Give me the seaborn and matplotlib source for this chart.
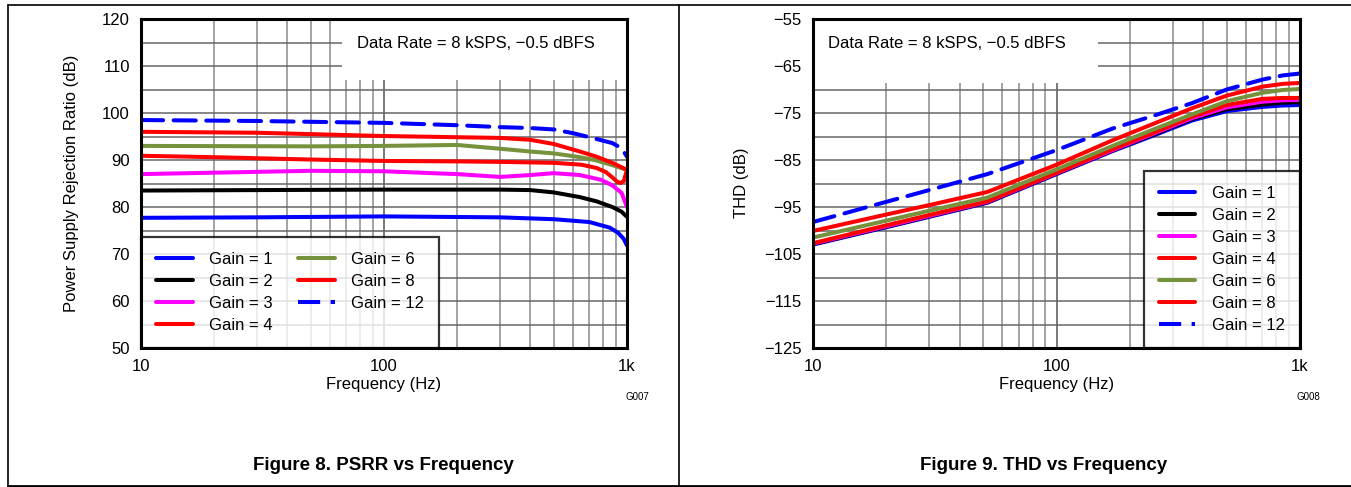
import numpy as np
import pandas as pd
import matplotlib
matplotlib.use("Agg")
import matplotlib.pyplot as plt
import seaborn as sns
from matplotlib.ticker import LogLocator, FixedLocator, FixedFormatter, MultipleLocator, NullFormatter
from matplotlib.lines import Line2D
from matplotlib.patches import Rectangle

# ---------------- data ----------------
gain_labels = ["Gain = 1", "Gain = 2", "Gain = 3", "Gain = 4", "Gain = 6", "Gain = 8", "Gain = 12"]
gain_colors = ["#0000ff", "#000000", "#ff00ff", "#ff0000", "#76923c", "#ff0000", "#0000ff"]
gain_dashed = [False, False, False, False, False, False, True]

# PSRR vs frequency (dB)
psrr_g1_f = [10, 30, 100, 300, 500, 700, 850, 920, 970, 1000]
psrr_g1 = [77.7, 77.8, 78.0, 77.8, 77.4, 76.8, 75.6, 74.5, 73.2, 71.8]
psrr_g2_f = [10, 30, 100, 300, 400, 500, 640, 750, 870, 950, 1000]
psrr_g2 = [83.5, 83.6, 83.7, 83.7, 83.6, 83.1, 82.1, 81.2, 80.0, 79.0, 77.9]
psrr_g3_f = [10, 20, 50, 100, 200, 300, 400, 500, 640, 780, 870, 950, 1000]
psrr_g3 = [87.0, 87.3, 87.7, 87.6, 87.0, 86.4, 86.8, 87.2, 86.8, 85.8, 84.6, 83.0, 80.0]
psrr_g4_f = [10, 20, 50, 100, 200, 300, 500, 650, 750, 820, 870, 910, 940, 970, 1000]
psrr_g4 = [90.9, 90.6, 90.1, 89.8, 89.7, 89.6, 89.4, 89.0, 88.3, 87.4, 86.3, 85.4, 85.1, 85.5, 87.9]
psrr_g6_f = [10, 50, 100, 200, 300, 400, 500, 640, 750, 870, 1000]
psrr_g6 = [93.0, 92.9, 93.0, 93.2, 92.4, 91.8, 91.4, 90.6, 89.9, 88.9, 87.9]
psrr_g8_f = [10, 30, 100, 300, 400, 500, 640, 750, 870, 1000]
psrr_g8 = [96.0, 95.8, 95.1, 94.7, 94.3, 93.4, 91.8, 90.7, 89.4, 87.9]
psrr_g12_f = [10, 30, 100, 200, 300, 400, 500, 600, 720, 870, 950, 1000]
psrr_g12 = [98.5, 98.3, 97.9, 97.4, 97.0, 96.8, 96.5, 95.7, 94.7, 93.6, 92.5, 90.7]

# THD vs frequency (dB)
thd_f = [10, 20, 30, 52, 100, 170, 250, 360, 500, 700, 850, 1000]
thd_g1 = [-103.0, -99.3, -97.1, -94.1, -88.0, -83.1, -79.8, -76.6, -74.6, -73.7, -73.4, -73.3]
thd_g2 = [-102.9, -99.2, -97.0, -94.0, -87.9, -83.0, -79.6, -76.3, -74.2, -73.2, -72.8, -72.7]
thd_g3 = [-102.8, -99.1, -96.9, -93.9, -87.8, -82.9, -79.4, -76.1, -73.8, -72.6, -72.3, -72.2]
thd_g4 = [-102.7, -98.9, -96.7, -93.8, -87.7, -82.7, -79.2, -75.8, -73.3, -72.0, -71.8, -71.8]
thd_g6 = [-101.5, -97.9, -95.8, -93.0, -87.0, -82.0, -78.5, -75.3, -72.5, -70.7, -70.1, -69.9]
thd_g8 = [-100.1, -96.6, -94.6, -91.8, -86.0, -80.8, -77.3, -74.0, -71.3, -69.4, -68.8, -68.6]
thd_g12 = [-98.2, -93.9, -91.4, -88.0, -82.9, -78.3, -75.6, -72.9, -70.0, -67.9, -67.0, -66.6]

psrr_series = [(psrr_g1_f, psrr_g1), (psrr_g2_f, psrr_g2), (psrr_g3_f, psrr_g3), (psrr_g4_f, psrr_g4),
               (psrr_g6_f, psrr_g6), (psrr_g8_f, psrr_g8), (psrr_g12_f, psrr_g12)]
thd_series = [(thd_f, thd_g1), (thd_f, thd_g2), (thd_f, thd_g3), (thd_f, thd_g4),
              (thd_f, thd_g6), (thd_f, thd_g8), (thd_f, thd_g12)]

x_ticks = [10, 100, 1000]
x_tick_labels = ["10", "100", "1k"]
psrr_yticks = [50, 60, 70, 80, 90, 100, 110, 120]
thd_yticks = [-125, -115, -105, -95, -85, -75, -65, -55]

# ---------------- style ----------------
sns.set_theme(style="white")
plt.rcParams["font.family"] = ["Liberation Sans", "DejaVu Sans"]
plt.rcParams["axes.unicode_minus"] = True
plt.rcParams["text.color"] = "black"
plt.rcParams["axes.labelcolor"] = "black"
plt.rcParams["xtick.color"] = "black"
plt.rcParams["ytick.color"] = "black"
plt.rcParams["legend.labelcolor"] = "black"

W, H = 1351, 487
fig = plt.figure(figsize=(W / 100, H / 100), dpi=100)
fig.patch.set_facecolor("white")

LW = 2.9
DASH = (5.5, 2.6)


def make_axes(x0, x1, y0, y1):
    return fig.add_axes([x0 / W, 1 - y1 / H, (x1 - x0) / W, (y1 - y0) / H])


def style_axes(ax, ylim, yticks):
    ax.set_xscale("log")
    ax.set_xlim(10, 1000)
    ax.set_ylim(*ylim)
    ax.xaxis.set_major_locator(FixedLocator(x_ticks))
    ax.xaxis.set_major_formatter(FixedFormatter(x_tick_labels))
    ax.xaxis.set_minor_locator(LogLocator(base=10, subs=range(2, 10)))
    ax.xaxis.set_minor_formatter(NullFormatter())
    ax.yaxis.set_major_locator(FixedLocator(yticks))
    ax.yaxis.set_minor_locator(MultipleLocator(5))
    ax.grid(which="major", axis="x", color="#555555", linewidth=1.1, zorder=0)
    ax.grid(which="minor", axis="x", color="#8a8a8a", linewidth=1.1, zorder=0)
    ax.grid(which="both", axis="y", color="#666666", linewidth=1.1, zorder=0)
    ax.set_axisbelow(True)
    ax.tick_params(which="both", length=0, pad=8, labelsize=12, colors="black")
    for s in ax.spines.values():
        s.set_visible(True)
        s.set_color("black")
        s.set_linewidth(2.2)
        s.set_zorder(10)


def draw_series(ax, series):
    for (f, v), lab, col, dashed in zip(series, gain_labels, gain_colors, gain_dashed):
        df = pd.DataFrame({"f": f, "v": v})
        kw = dict(dashes=DASH) if dashed else {}
        sns.lineplot(data=df, x="f", y="v", ax=ax, color=col, linewidth=LW,
                     legend=False, zorder=3, solid_capstyle="round",
                     dash_capstyle="round", **kw)
    ax.set_xlabel("")
    ax.set_ylabel("")


def legend_handles():
    hs = []
    for col, dashed in zip(gain_colors, gain_dashed):
        if dashed:
            hs.append(Line2D([], [], color=col, linewidth=LW, dashes=DASH, dash_capstyle="butt"))
        else:
            hs.append(Line2D([], [], color=col, linewidth=LW))
    return hs


# ---------------- left: PSRR ----------------
axL = make_axes(141, 627, 19, 348)
style_axes(axL, (50, 120), psrr_yticks)
draw_series(axL, psrr_series)
axL.add_patch(Rectangle((0.414, 0.815), 0.586, 0.185, transform=axL.transAxes,
                        facecolor="white", edgecolor="none", zorder=2))
axL.text(0.445, 0.925, "Data Rate = 8 kSPS, \u22120.5 dBFS", transform=axL.transAxes,
         fontsize=12, va="center", ha="left", zorder=4)
legL = axL.legend(legend_handles(), gain_labels, loc="lower left", ncol=2,
                  borderaxespad=0, frameon=True, fancybox=False, fontsize=12,
                  handlelength=2.2, handletextpad=1.0, labelspacing=0.42,
                  columnspacing=1.5, borderpad=0.9)
legL.get_frame().set_edgecolor("black")
legL.get_frame().set_linewidth(1.6)
legL.set_zorder(6)

# ---------------- right: THD ----------------
axR = make_axes(813, 1300, 19, 348)
style_axes(axR, (-125, -55), thd_yticks)
draw_series(axR, thd_series)
axR.add_patch(Rectangle((0.0, 0.805), 0.585, 0.195, transform=axR.transAxes,
                        facecolor="white", edgecolor="none", zorder=2))
axR.text(0.031, 0.925, "Data Rate = 8 kSPS, \u22120.5 dBFS", transform=axR.transAxes,
         fontsize=12, va="center", ha="left", zorder=4)
legR = axR.legend(legend_handles(), gain_labels, loc="lower right", ncol=1,
                  borderaxespad=0, frameon=True, fancybox=False, fontsize=12,
                  handlelength=2.2, handletextpad=1.0, labelspacing=0.42,
                  borderpad=0.9)
legR.get_frame().set_edgecolor("black")
legR.get_frame().set_linewidth(1.6)
legR.set_zorder(6)

# ---------------- labels and titles ----------------
fig.text(384 / W, 1 - 385 / H, "Frequency (Hz)", ha="center", va="center", fontsize=12)
fig.text(1057 / W, 1 - 385 / H, "Frequency (Hz)", ha="center", va="center", fontsize=12)
fig.text(72 / W, 1 - 183 / H, "Power Supply Rejection Ratio (dB)", rotation=90,
         ha="center", va="center", fontsize=12)
fig.text(742 / W, 1 - 183 / H, "THD (dB)", rotation=90, ha="center", va="center", fontsize=12)
fig.text(637 / W, 1 - 397 / H, "G007", ha="center", va="center", fontsize=7)
fig.text(1308 / W, 1 - 397 / H, "G008", ha="center", va="center", fontsize=7)
fig.text(383 / W, 1 - 466 / H, "Figure 8. PSRR vs Frequency", ha="center", va="center",
         fontsize=13.5, fontweight="bold")
fig.text(1044 / W, 1 - 466 / H, "Figure 9. THD vs Frequency", ha="center", va="center",
         fontsize=13.5, fontweight="bold")

# ---------------- frame lines ----------------
frame_kw = dict(color="black", linewidth=1.2, transform=fig.transFigure, clip_on=False)
fig.add_artist(Line2D([8 / W, 1.0], [1 - 5 / H, 1 - 5 / H], **frame_kw))
fig.add_artist(Line2D([8 / W, 8 / W], [0, 1 - 5 / H], **frame_kw))
fig.add_artist(Line2D([679 / W, 679 / W], [0, 1 - 5 / H], **frame_kw))
fig.add_artist(Line2D([8 / W, 1.0], [1.5 / H, 1.5 / H], color="black", linewidth=2.0,
                      transform=fig.transFigure, clip_on=False))

fig.savefig("out.png", dpi=100, facecolor="white")
